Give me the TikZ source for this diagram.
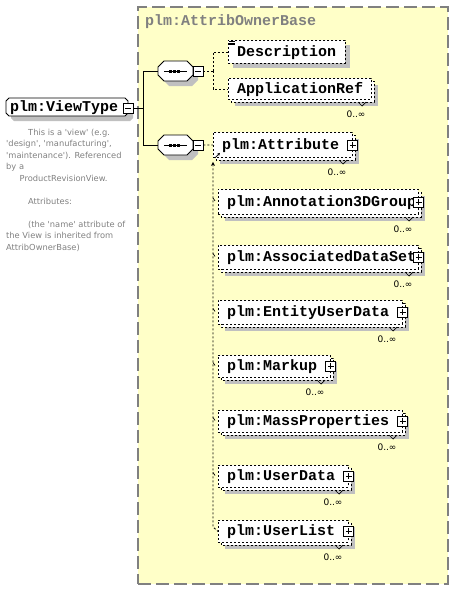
\documentclass[tikz,border=0pt]{standalone}
\usepackage{fontspec}
\setmonofont{Liberation Mono}
\newfontfamily\dvs{DejaVu Sans}
\usetikzlibrary{arrows.meta,calc}
\definecolor{bgyellow}{HTML}{FFFFC8}
\definecolor{shad}{HTML}{C0C0C0}
\definecolor{txtgray}{HTML}{808080}
\tikzset{
  elabel/.style={anchor=base west, inner sep=0, font=\ttfamily\bfseries\fontsize{15}{16}\selectfont},
  eline/.style={draw=black, line width=0.9pt, dash pattern=on 2pt off 2pt},
  ebox/.style={eline, fill=white, inner sep=0, anchor=north west},
  conn/.style={line width=0.9pt},
  dconn/.style={line width=0.9pt, dash pattern=on 2pt off 2pt},
  pmbox/.style={draw, fill=white, line width=0.9pt, minimum size=10pt, inner sep=0},
  occ/.style={font=\dvs\fontsize{9}{10}\selectfont, inner sep=0},
  dtext/.style={anchor=base west, inner sep=0, text=txtgray, font=\dvs\fontsize{8.3}{10}\selectfont},
}
\newcommand\octdraw[6]{\path[#6] (#1+#5,#2) -- (#3-#5,#2) -- (#3,#2+#5) -- (#3,#4-#5) -- (#3-#5,#4) -- (#1+#5,#4) -- (#1,#4-#5) -- (#1,#2+#5) -- cycle;}
\newcommand\pmplus[1]{\draw[line width=0.9pt] ($(#1.center)+(-3,0)$) -- ($(#1.center)+(3,0)$) ($(#1.center)+(0,-3)$) -- ($(#1.center)+(0,3)$);}
\newcommand\pmminus[1]{\draw[line width=0.9pt] ($(#1.center)+(-3,0)$) -- ($(#1.center)+(3,0)$);}
% single element
\newcommand\selem[6]{%
  \fill[shad] (#2+5,#3+5) rectangle (#4+5,#5+5);
  \node[ebox, minimum width=#4-#2, minimum height=#5-#3] (#1) at (#2,#3) {};
  \node[elabel] (#1-t) at (#2+9,{(#3+#5)/2+4.5}) {#6};
}
% multiple element
\newcommand\melem[6]{%
  \fill[shad] (#2+7,#3+7) rectangle (#4+7,#5+7);
  \path[eline, fill=white] (#2+3,#3+3) rectangle (#4+3,#5+3);
  \node[ebox, minimum width=#4-#2, minimum height=#5-#3] (#1) at (#2,#3) {};
  \node[elabel] (#1-t) at (#2+9,{(#3+#5)/2+4.5}) {#6};
  \draw[line width=0.7pt] (#4-13,#5+3) -- (#4-9,#5+7) -- (#4-5,#5+3);
  \node[occ] (#1-o) at (#4-15,#5+15) {0..∞};
}
\newcommand\pbox[1]{\node[pmbox] (#1-p) at (#1.east) {}; \pmplus{#1-p}}
\begin{document}
\begin{tikzpicture}[x=1pt,y=-1pt]
\useasboundingbox (0,0) rectangle (453,589);
% base type region
\node[fill=bgyellow, draw=txtgray, line width=1.6pt, dash pattern=on 13pt off 5pt,
      minimum width=310, minimum height=577, inner sep=0, anchor=north west] (base) at (137,6) {};
\node[anchor=base west, inner sep=0, text=txtgray, font=\ttfamily\bfseries\fontsize{15}{16}\selectfont] (basetitle) at (145,25.5) {plm:AttribOwnerBase};

% ViewType
\octdraw{11}{103}{133}{121}{3}{fill=shad}
\octdraw{6}{98}{128}{116}{3}{draw, fill=white, conn}
\node[elabel] (vt) at (10,111.5) {plm:ViewType};
\node[pmbox] (vtm) at (128,108) {};
\pmminus{vtm}

% description text
\node[dtext] (d1) at (28,135) {This is a \textquotesingle view\textquotesingle\ (e.g.};
\node[dtext] (d2) at (6,146.5) {\textquotesingle design\textquotesingle, \textquotesingle manufacturing\textquotesingle,};
\node[dtext] (d3) at (6,158) {\textquotesingle maintenance\textquotesingle). Referenced};
\node[dtext] (d4) at (6,169.5) {by a};
\node[dtext] (d5) at (19.5,181) {ProductRevisionView.};
\node[dtext] (d6) at (28,204) {Attributes:};
\node[dtext] (d7) at (28,227) {(the \textquotesingle name\textquotesingle\ attribute of};
\node[dtext] (d8) at (6,238.5) {the View is inherited from};
\node[dtext] (d9) at (6,250) {AttribOwnerBase)};

% sequence nodes
\octdraw{163}{66}{198}{86}{6}{fill=shad}
\octdraw{158}{61}{193}{81}{6}{draw, fill=white, conn}
\node[inner sep=0, minimum width=35, minimum height=20] (seq1) at (175.5,71) {};
\draw[conn] (164,71) -- (187,71);
\foreach \sx in {168.5,172.5,176.5} \fill (\sx,69.5) rectangle +(3,3);
\node[pmbox] (seq1m) at (198,71) {};
\pmminus{seq1m}

\octdraw{163}{140}{198}{160}{6}{fill=shad}
\octdraw{158}{135}{193}{155}{6}{draw, fill=white, conn}
\node[inner sep=0, minimum width=35, minimum height=20] (seq2) at (175.5,145) {};
\draw[conn] (164,145) -- (187,145);
\foreach \sx in {168.5,172.5,176.5} \fill (\sx,143.5) rectangle +(3,3);
\node[pmbox] (seq2m) at (198,145) {};
\pmminus{seq2m}

% connectors from ViewType
\coordinate (j1) at (143,108);
\draw[conn] (vtm.east) -- (j1);
\draw[conn] (j1) |- (seq1.west);
\draw[conn] (j1) |- (seq2.west);

% elements
\selem{desc}{228}{40}{345}{63}{Description}
\draw[line width=0.6pt] (229,41.5) -- (235,41.5) (229,43) -- (235,43) (229,44.5) -- (235,44.5);
\melem{appref}{228}{78}{371}{99}{ApplicationRef}
\melem{attr}{213}{132}{352}{157}{plm:Attribute}
\pbox{attr}
\melem{ann}{218}{189}{418}{214}{plm:Annotation3DGroup}
\pbox{ann}
\melem{ads}{218}{245}{418}{269}{plm:AssociatedDataSet}
\pbox{ads}
\melem{eud}{218}{300}{402}{324}{plm:EntityUserData}
\pbox{eud}
\melem{mk}{218}{355}{330}{377}{plm:Markup}
\pbox{mk}
\melem{mp}{218}{410}{402}{432}{plm:MassProperties}
\pbox{mp}
\melem{ud}{218}{465}{348}{487}{plm:UserData}
\pbox{ud}
\melem{ul}{218}{520}{348}{542}{plm:UserList}
\pbox{ul}

% dashed connectors of first sequence
\coordinate (j2) at (213,71);
\draw[dconn] (seq1m.east) -- (j2);
\draw[dconn] (j2) |- (desc.west);
\draw[dconn] (j2) |- (appref.west);

% second sequence
\draw[dconn] (seq2m.east) -- (attr.west);
\coordinate (chb) at (213,527);
\draw[dconn, {Stealth[length=4pt,width=4pt]}-] ($(attr.south west)+(0,4)$) -- (chb) -- (ul.west);
\foreach \e in {ann,ads,eud,mk,mp,ud}
  \draw[line width=0.7pt] ($(\e.west)+(-5,-4)$) -- ($(\e.west)+(-3,-1)$);
\draw[line width=0.8pt, -{Stealth[length=3pt,width=3pt]}] ($(attr.south west)+(2,0)$) -- ++(5,-5);
\end{tikzpicture}
\end{document}
